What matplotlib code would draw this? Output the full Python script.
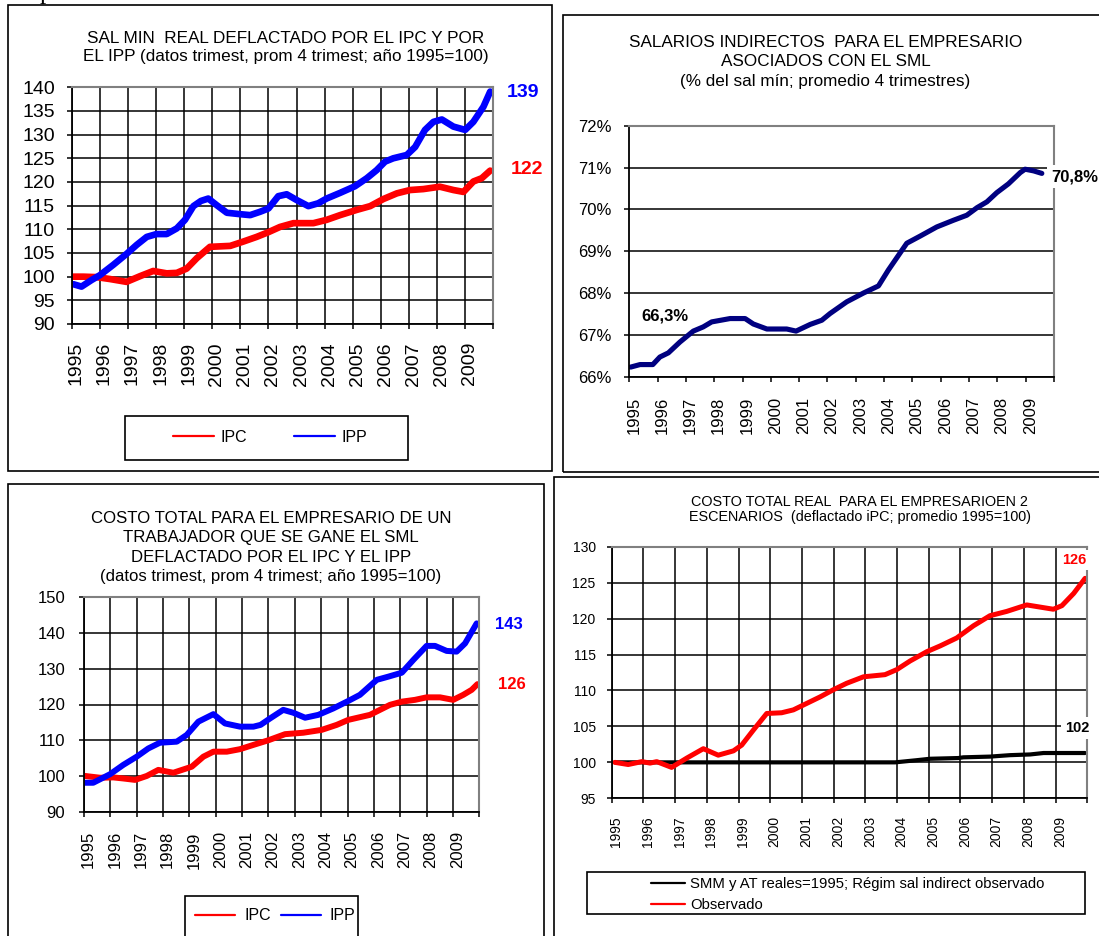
import numpy as np
import matplotlib
matplotlib.use("Agg")
import matplotlib.pyplot as plt
import matplotlib.transforms as mtransforms
from matplotlib.patches import Rectangle
from matplotlib.ticker import FuncFormatter

plt.rcParams['font.family'] = ['Liberation Sans', 'DejaVu Sans']

# ---- data (decimal years, values) ----
years = list(range(1995, 2011))

# chart 1: sal min real deflactado por IPC / IPP
ipc1_t = [1995.06, 1995.41, 1995.89, 1996.36, 1996.95, 1997.43, 1997.9, 1998.38, 1998.74, 1999.09,
          1999.45, 1999.92, 2000.64, 2001.1, 2001.58, 2002.0, 2002.41, 2002.89, 2003.6, 2004.07,
          2004.55, 2005.14, 2005.62, 2006.09, 2006.57, 2007.04, 2007.51, 2008.1, 2008.58, 2008.94,
          2009.29, 2009.59, 2009.89]
ipc1_v = [100.0, 100.0, 99.9, 99.5, 98.9, 100.1, 101.2, 100.7, 100.8, 101.7,
          103.9, 106.3, 106.5, 107.4, 108.4, 109.4, 110.5, 111.3, 111.3, 112.0,
          113.0, 114.1, 114.9, 116.4, 117.6, 118.3, 118.5, 119.0, 118.3, 117.9,
          120.1, 120.8, 122.4]
ipp1_t = [1995.06, 1995.35, 1995.71, 1996.0, 1996.48, 1996.95, 1997.31, 1997.67, 1998.02, 1998.38,
          1998.74, 1999.03, 1999.33, 1999.6, 1999.86, 2000.16, 2000.52, 2000.99, 2001.35, 2001.7,
          2002.0, 2002.35, 2002.65, 2003.0, 2003.42, 2003.77, 2004.07, 2004.55, 2005.08, 2005.5,
          2005.85, 2006.15, 2006.44, 2006.92, 2007.22, 2007.57, 2007.87, 2008.17, 2008.58, 2009.0,
          2009.29, 2009.65, 2009.89]
ipp1_v = [98.4, 97.9, 99.3, 100.3, 102.5, 104.8, 106.7, 108.4, 109.0, 109.0,
          110.2, 112.0, 114.9, 116.0, 116.5, 115.1, 113.5, 113.2, 113.0, 113.7,
          114.4, 117.0, 117.4, 116.2, 114.9, 115.5, 116.5, 117.7, 119.1, 120.8,
          122.5, 124.3, 125.0, 125.7, 127.4, 131.0, 132.7, 133.2, 131.7, 131.0,
          132.7, 135.9, 139.1]

# chart 2: salarios indirectos (% del sal min)
sal_t = [1995.05, 1995.38, 1995.83, 1996.08, 1996.38, 1996.79, 1997.26, 1997.61, 1997.91, 1998.56,
         1999.09, 1999.38, 1999.86, 2000.56, 2000.89, 2001.39, 2001.8, 2002.09, 2002.68, 2003.27,
         2003.8, 2004.15, 2004.8, 2005.27, 2005.86, 2006.45, 2006.92, 2007.28, 2007.63, 2007.98,
         2008.39, 2008.81, 2008.98, 2009.28, 2009.57]
sal_v = [66.23, 66.29, 66.29, 66.47, 66.57, 66.83, 67.09, 67.19, 67.31, 67.39,
         67.39, 67.26, 67.14, 67.14, 67.09, 67.25, 67.35, 67.51, 67.79, 68.0,
         68.17, 68.55, 69.19, 69.36, 69.58, 69.74, 69.86, 70.04, 70.18, 70.40,
         70.61, 70.88, 70.96, 70.92, 70.86]

# chart 3: costo total deflactado por IPC / IPP
ipc3_t = [1995.04, 1995.61, 1996.11, 1996.49, 1996.94, 1997.38, 1997.82, 1998.39, 1999.09, 1999.53,
          1999.91, 2000.42, 2000.92, 2001.43, 2002.0, 2002.63, 2003.32, 2004.02, 2004.59, 2005.03,
          2005.85, 2006.61, 2007.06, 2007.56, 2008.0, 2008.51, 2009.01, 2009.39, 2009.71, 2009.93]
ipc3_v = [100.0, 99.5, 99.6, 99.3, 98.9, 100.0, 101.7, 100.9, 102.6, 105.4,
          106.8, 106.8, 107.5, 108.7, 110.0, 111.7, 112.1, 112.9, 114.3, 115.7,
          117.1, 119.9, 120.8, 121.3, 122.0, 122.0, 121.3, 122.7, 124.1, 125.7]
ipp3_t = [1995.04, 1995.35, 1995.99, 1996.49, 1997.0, 1997.44, 1997.88, 1998.52, 1998.9, 1999.34,
          1999.91, 2000.35, 2000.92, 2001.43, 2001.7, 2002.06, 2002.56, 2002.94, 2003.39, 2003.89,
          2004.46, 2005.03, 2005.47, 2006.11, 2006.55, 2007.06, 2007.5, 2008.0, 2008.32, 2008.76,
          2009.14, 2009.46, 2009.9]
ipp3_v = [98.1, 98.1, 100.5, 103.1, 105.4, 107.7, 109.3, 109.6, 111.5, 115.2,
          117.3, 114.7, 113.8, 113.8, 114.3, 116.1, 118.5, 117.7, 116.3, 117.1,
          118.9, 121.0, 122.7, 126.9, 127.8, 128.9, 132.5, 136.4, 136.4, 135.0,
          134.8, 137.1, 142.7]

# chart 4: costo total real en 2 escenarios
smm_t = [1995.1, 2003.94, 2004.62, 2005.04, 2005.93, 2006.09, 2006.93, 2007.56, 2008.2, 2008.62, 2009.93]
smm_v = [100.0, 100.0, 100.3, 100.5, 100.6, 100.7, 100.8, 101.0, 101.1, 101.3, 101.3]
obs_t = [1995.1, 1995.52, 1995.95, 1996.21, 1996.42, 1996.89, 1997.37, 1997.89, 1998.36, 1998.84,
         1999.1, 1999.47, 1999.89, 2000.36, 2000.73, 2001.15, 2001.57, 2001.99, 2002.41, 2002.94,
         2003.62, 2003.99, 2004.41, 2004.94, 2005.36, 2005.88, 2006.41, 2006.93, 2007.46, 2008.09,
         2008.51, 2008.93, 2009.2, 2009.57, 2009.93]
obs_v = [100.0, 99.7, 100.1, 99.9, 100.1, 99.3, 100.6, 101.9, 101.0, 101.6,
         102.4, 104.5, 106.8, 106.9, 107.3, 108.2, 109.1, 110.1, 111.0, 111.9,
         112.2, 112.9, 114.1, 115.4, 116.2, 117.3, 119.0, 120.4, 121.0, 121.9,
         121.6, 121.3, 121.8, 123.5, 125.6]

titles = [
    "SAL MIN  REAL DEFLACTADO POR EL IPC Y POR\nEL IPP (datos trimest, prom 4 trimest; año 1995=100)",
    "SALARIOS INDIRECTOS  PARA EL EMPRESARIO\nASOCIADOS CON EL SML\n(% del sal mín; promedio 4 trimestres)",
    "COSTO TOTAL PARA EL EMPRESARIO DE UN\nTRABAJADOR QUE SE GANE EL SML\nDEFLACTADO POR EL IPC Y EL IPP\n(datos trimest, prom 4 trimest; año 1995=100)",
    "COSTO TOTAL REAL  PARA EL EMPRESARIOEN 2\nESCENARIOS  (deflactado iPC; promedio 1995=100)",
]

W, H = 1099, 936
fig = plt.figure(figsize=(W / 100, H / 100), dpi=100)


def fx(x):
    return x / W


def fy(y):
    return 1 - y / H


def px_axes(left, top, right, bottom):
    return fig.add_axes([fx(left), fy(bottom), (right - left) / W, (bottom - top) / H])


def panel(x0, y0, x1, y1):
    fig.add_artist(Rectangle((fx(x0), fy(y1)), (x1 - x0) / W, (y1 - y0) / H,
                             transform=fig.transFigure, fill=False, ec='black', lw=1.2))


def style_axes(ax, ylim, ystep, fs, xpad, ypad, vgrid=True):
    ax.set_xlim(1995, 2010)
    ax.set_ylim(*ylim)
    ax.set_xticks(years)
    ax.set_xticklabels([str(y) if y < 2010 else '' for y in years], rotation=90)
    ax.set_yticks(np.arange(ylim[0], ylim[1] + ystep / 2, ystep))
    ax.grid(axis='y', color='black', lw=1.1)
    if vgrid:
        ax.grid(axis='x', color='black', lw=1.1)
    ax.set_axisbelow(True)
    for s in ['left', 'bottom']:
        ax.spines[s].set_color('black')
        ax.spines[s].set_linewidth(1.3)
    for s in ['top', 'right']:
        ax.spines[s].set_color('#808080')
        ax.spines[s].set_linewidth(1.5)
    ax.tick_params(axis='both', direction='out', length=3.5, width=1.1, colors='black', labelsize=fs)
    ax.tick_params(axis='x', pad=xpad)
    ax.tick_params(axis='y', pad=ypad)
    # Excel puts the year label at the centre of the first quarter
    offset = mtransforms.ScaledTranslation(4.5 / 100, 0, fig.dpi_scale_trans)
    for lab in ax.get_xticklabels():
        lab.set_transform(lab.get_transform() + offset)


line_kw = dict(solid_capstyle='round', solid_joinstyle='round')

# ---------------- chart 1 ----------------
panel(7.7, 5, 552, 470.7)
ax1 = px_axes(71.7, 87.3, 493.3, 324)
ax1.plot(ipc1_t, ipc1_v, color='#FF0000', lw=4.8, label='IPC', **line_kw)
ax1.plot(ipp1_t, ipp1_v, color='#0000FF', lw=4.8, label='IPP', **line_kw)
style_axes(ax1, (90, 140), 5, 14, xpad=9.5, ypad=8.5)
ax1.annotate('139', xy=(ipp1_t[-1], ipp1_v[-1]), xytext=(33, -1), textcoords='offset pixels',
             ha='center', va='center', color='#0000FF', fontsize=14, fontweight='bold')
ax1.annotate('122', xy=(ipc1_t[-1], ipc1_v[-1]), xytext=(37, 1), textcoords='offset pixels',
             ha='center', va='center', color='#FF0000', fontsize=14, fontweight='bold')
fig.text(fx(286), fy(47.5), titles[0], ha='center', va='center', fontsize=12.3, linespacing=1.23)
panel(124.6, 416, 407.7, 460)
leg1 = ax1.legend(loc='center', bbox_to_anchor=(fx(270), fy(437)), bbox_transform=fig.transFigure,
                  ncol=2, frameon=False, fontsize=11.5, handlelength=2.6, handletextpad=0.4,
                  columnspacing=2.9, borderpad=0)
for h in leg1.get_lines():
    h.set_linewidth(1.6)

# ---------------- chart 2 ----------------
panel(563.3, 15, 1110, 471.7)
ax2 = px_axes(629.3, 125.7, 1054, 376.7)
ax2.plot(sal_t, sal_v, color='#000080', lw=3.7, **line_kw)
style_axes(ax2, (66, 72), 1, 12, xpad=11, ypad=9.5, vgrid=False)
ax2.yaxis.set_major_formatter(FuncFormatter(lambda v, p: f"{v:.0f}%"))
ax2.annotate('66,3%', xy=(sal_t[0], sal_v[0]), xytext=(34, 51), textcoords='offset pixels',
             ha='center', va='center', color='black', fontsize=12, fontweight='bold')
ax2.annotate('70,8%', xy=(sal_t[-1], sal_v[-1]), xytext=(9.5, -3.4), textcoords='offset pixels',
             ha='left', va='center', color='black', fontsize=12, fontweight='bold',
             bbox=dict(facecolor='white', edgecolor='none', pad=3))
fig.text(fx(825.4), fy(61.7), titles[1], ha='center', va='center', fontsize=12.3, linespacing=1.36)

# ---------------- chart 3 ----------------
panel(7.7, 484, 544, 950)
ax3 = px_axes(84, 597.3, 479.3, 811.7)
ax3.plot(ipc3_t, ipc3_v, color='#FF0000', lw=4.3, label='IPC', **line_kw)
ax3.plot(ipp3_t, ipp3_v, color='#0000FF', lw=4.3, label='IPP', **line_kw)
style_axes(ax3, (90, 150), 10, 12, xpad=10.5, ypad=10)
ax3.annotate('143', xy=(ipp3_t[-1], ipp3_v[-1]), xytext=(32.6, -0.7), textcoords='offset pixels',
             ha='center', va='center', color='#0000FF', fontsize=12, fontweight='bold')
ax3.annotate('126', xy=(ipc3_t[-1], ipc3_v[-1]), xytext=(34.7, 0), textcoords='offset pixels',
             ha='center', va='center', color='#FF0000', fontsize=12, fontweight='bold')
fig.text(fx(271), fy(547.5), titles[2], ha='center', va='center', fontsize=12.1, linespacing=1.36)
panel(185, 895.7, 358, 950)
leg3 = ax3.legend(loc='center', bbox_to_anchor=(fx(275.5), fy(916)), bbox_transform=fig.transFigure,
                  ncol=2, frameon=False, fontsize=11.5, handlelength=2.5, handletextpad=0.55,
                  columnspacing=0.65, borderpad=0)
for h in leg3.get_lines():
    h.set_linewidth(1.6)

# ---------------- chart 4 ----------------
panel(554, 477, 1110, 950)
ax4 = px_axes(611.7, 546.7, 1087.3, 798.3)
ax4.plot(smm_t, smm_v, color='black', lw=3.0,
         label='SMM y AT reales=1995; Régim sal indirect observado', **line_kw)
ax4.plot(obs_t, obs_v, color='#FF0000', lw=3.6, label='Observado', **line_kw)
style_axes(ax4, (95, 130), 5, 10, xpad=9.4, ypad=8)
ax4.annotate('126', xy=(obs_t[-1], obs_v[-1]), xytext=(-11.3, 18.3), textcoords='offset pixels',
             ha='center', va='center', color='#FF0000', fontsize=10.5, fontweight='bold',
             bbox=dict(facecolor='white', edgecolor='none', pad=2))
ax4.annotate('102', xy=(smm_t[-1], smm_v[-1]), xytext=(-7.8, 25), textcoords='offset pixels',
             ha='center', va='center', color='black', fontsize=10.5, fontweight='bold',
             bbox=dict(facecolor='white', edgecolor='none', pad=3))
fig.text(fx(859.6), fy(509.2), titles[3], ha='center', va='center', fontsize=10.4, linespacing=1.11)
panel(586.8, 871.7, 1085, 914)
leg4 = ax4.legend(loc='upper left', bbox_to_anchor=(fx(644), fy(869.5)), bbox_transform=fig.transFigure,
                  ncol=1, frameon=False, fontsize=10.7, handlelength=2.28, handletextpad=0.3,
                  labelspacing=0.5, borderpad=0)
for h in leg4.get_lines():
    h.set_linewidth(1.6)

# cut-off letter of the surrounding document text
fig.text(fx(46), fy(-1), 'p', ha='center', va='baseline', fontsize=18, family='Liberation Serif')

fig.savefig('out.png', dpi=100)
